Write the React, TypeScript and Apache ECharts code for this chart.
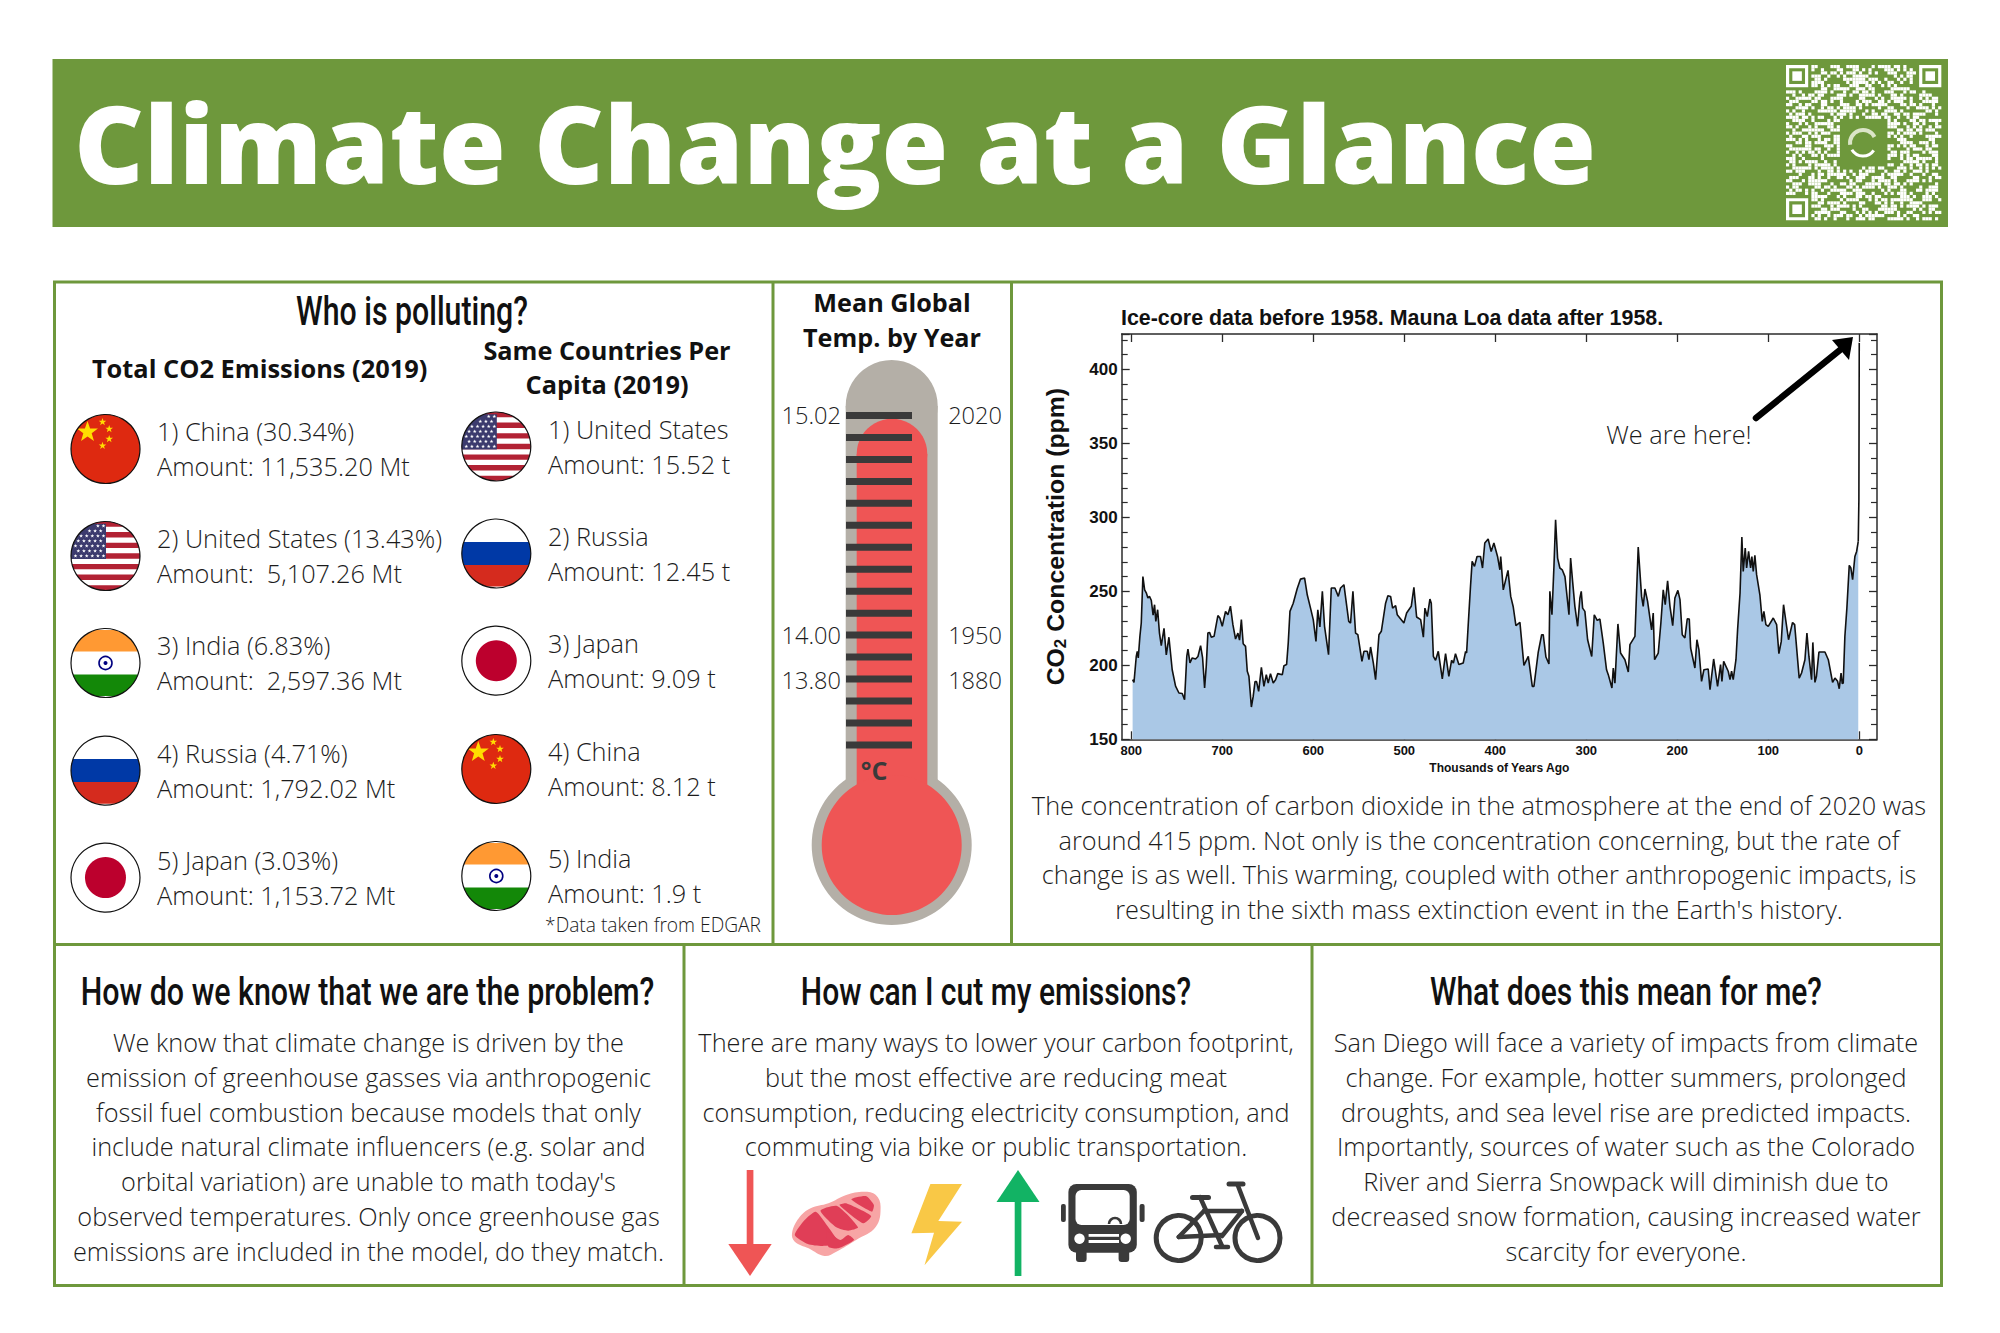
import React, { useEffect, useRef } from "react";
import * as echarts from "echarts";

const ages = [798.5,797,794.5,793.4,792.3,790.5,789,787.2,785.3,783.5,781.7,780,778,776,774.4,773,771,769,767,764,761.5,758.6,755,751.3,747.6,744,741.4,739,737.7,735.5,733,729.3,726.7,723.8,721.6,719.4,717.6,715.8,714,712,709,704.8,702.6,700,696.4,693.8,691,688.3,685.4,682.8,681,679,677,674.4,672.5,670.7,668,666,664,662.3,660,657,654.2,651.6,649.5,647,644,641.4,639,634,632.2,629.3,627.5,625.6,622,617.6,614,609.5,606.6,603,600,597,595,592.7,590,587.6,583.2,580.2,576.2,572.5,570,566.3,561,559,556.4,553.5,551,546.5,544.3,540.6,538.8,537,534,531.5,527.8,525.2,520.5,518,515,512.8,509.5,507.7,500.4,497.4,492.3,489.4,486.4,482,479,477.3,474.7,471.8,470.3,468,465.6,462.6,458.2,454.6,451,448,446,443.7,440,435.2,432.6,431.5,429.7,427.2,425.4,422.8,420,416.2,414,411.5,407.8,404.5,401.5,397.5,394.9,394,391.2,386,383,380.2,377.3,372.9,368.5,363.7,359.3,357.5,352.8,349,347.3,344.3,341,340,337.7,335.5,333.7,331.5,329,326.4,323.4,319,317.2,315,312.5,309.5,307,305.5,304,301.5,298.5,294,291.2,288,285,281.3,277.7,275.8,271.8,270.3,268.5,265.2,262.3,257.5,253.8,252,246.5,242.9,239.2,237.4,235.5,232.6,228.2,226.4,224.9,220.9,218,215.4,213.2,210.6,208,205,202.6,199.3,197,194.5,191.6,189,186.8,185.3,180.6,178.4,176.2,173.3,170.7,166,164,160,155.7,152.4,150.9,149,144,142,140.3,138.5,135.5,133.7,131,129,127.5,125.3,123.8,121.6,119.4,118,116.5,114.7,112.8,109.2,106.6,104.8,102.6,100,94.5,90.8,88.3,85.7,83.2,80.6,77.7,73.3,71,66,63.4,59.7,57.5,55.3,52.4,51,48.7,47,44.3,37.7,34,29.3,26.7,23.8,22,20,18.7,17.6,15.8,13.6,11,9.2,7.3,4.8,2.9,1.1];
const co2 = [190.3,188.5,206,209.5,205,219.6,228.6,260,251,249,245.5,246.6,244,234,241,229.7,237.6,221.8,213.3,225,207,219,197,186,181.3,181,176.8,206,211,201.6,205,204.3,206,213.3,205,184.7,199.3,221.8,222.3,219,219.6,233.6,232,226.4,236.5,234.2,240,227.5,217.8,221.8,217,230.9,214.6,212.8,196,192.6,171.8,179,189,189,182.4,198.6,185.8,193.7,188,194.4,188,190.3,194.4,193.7,199.8,200.5,215,236.5,242,252,258.3,259,247.7,238.7,230.9,216.2,237.6,225.9,250,226.4,207.2,252.3,252.3,246.6,252.3,254.5,229.7,228.6,250,221.8,220.7,202.7,209.5,209.5,203.8,212.4,201.6,190.3,220.7,223,242,247,246.6,238.7,240.3,234.2,228.6,235.4,239.9,252.7,232.7,230.9,219,238.7,233,244.8,242,206,203.4,209.5,190.8,207.9,192.6,203.4,201.6,207.9,200.5,201.6,209.5,208.3,227.5,253.4,270.3,266.9,273.6,273.6,265.8,282.7,285.4,277,282.7,273.6,264.6,273.6,251,264.2,246.6,239.4,226.8,229,200,206,185.8,185.8,208.8,220.7,220.7,205.6,200.9,250,234.2,266.9,298.4,272.5,265.8,264.6,260,234.2,272.5,256.8,239.9,226.4,245.5,250,238.7,236.5,217.3,206,234.2,230.4,231.3,215,197,193.7,184.7,198.2,188,228,208.3,203.8,195.5,214,219.6,280,246.6,239.9,251.6,243.2,224,235.4,203.8,208.3,228.6,251,241,257.2,239.9,226.8,245.5,250.7,244.4,220.7,218.5,231.5,231.3,211.7,198.2,217.3,210.6,189.2,197,197.5,183.6,204.3,185.8,200.5,189.2,202.7,196,190.3,196,190.3,203.8,224,248.9,286.7,263.5,279.3,265.8,277,265.8,273.6,263.5,274.3,261.3,247.7,229.7,236.5,227.5,226.4,232,227.5,207.9,216.2,241,229.7,217.3,229,227.5,191.4,194.8,203.8,221.8,206,190.3,215.5,188.5,192.6,209,209,203.8,188.5,191.4,189.2,184.2,194.8,187.6,188,219.6,238.7,267.6,265.8,257.9,273.6,277,283.8];
const modernAges = [1.1, 0.4, 0];
const modernCo2 = [283.8, 312, 418];
const xTickValues = [0, 100, 200, 300, 400, 500, 600, 700, 800];

const totalLines = [
  ["1) China (30.34%)", "Amount: 11,535.20 Mt"],
  ["2) United States (13.43%)", "Amount:  5,107.26 Mt"],
  ["3) India (6.83%)", "Amount:  2,597.36 Mt"],
  ["4) Russia (4.71%)", "Amount: 1,792.02 Mt"],
  ["5) Japan (3.03%)", "Amount: 1,153.72 Mt"],
];
const totalFlags = ["china", "usa", "india", "russia", "japan"];
const capitaLines = [
  ["1) United States", "Amount: 15.52 t"],
  ["2) Russia", "Amount: 12.45 t"],
  ["3) Japan", "Amount: 9.09 t"],
  ["4) China", "Amount: 8.12 t"],
  ["5) India", "Amount: 1.9 t"],
];
const capitaFlags = ["usa", "russia", "japan", "china", "india"];
const tempLabels = ["15.02", "14.00", "13.80"];
const yearLabels = ["2020", "1950", "1880"];
const captionLines = [
  "The concentration of carbon dioxide in the atmosphere at the end of 2020 was",
  "around 415 ppm. Not only is the concentration concerning, but the rate of",
  "change is as well. This warming, coupled with other anthropogenic impacts, is",
  "resulting in the sixth mass extinction event in the Earth's history.",
];
const problemLines = [
  "We know that climate change is driven by the",
  "emission of greenhouse gasses via anthropogenic",
  "fossil fuel combustion because models that only",
  "include natural climate influencers (e.g. solar and",
  "orbital variation) are unable to math today's",
  "observed temperatures. Only once greenhouse gas",
  "emissions are included in the model, do they match.",
];
const cutLines = [
  "There are many ways to lower your carbon footprint,",
  "but the most effective are reducing meat",
  "consumption, reducing electricity consumption, and",
  "commuting via bike or public transportation.",
];
const meanLines = [
  "San Diego will face a variety of impacts from climate",
  "change. For example, hotter summers, prolonged",
  "droughts, and sea level rise are predicted impacts.",
  "Importantly, sources of water such as the Colorado",
  "River and Sierra Snowpack will diminish due to",
  "decreased snow formation, causing increased water",
  "scarcity for everyone.",
];
// decorative code block, one hex string per row
const qrRows = [
  "A5C39E17B46D2","3E90C6A1D57B8","C71B5D28E3F06","19E4A7C02B6D4","D2683FB9150A7","6AF017D4C92E3","B3D58E62A07C1",
  "4C19F3B07E6A5","E87A26D1C5903","25B0E9F4683C7","9F63C18A7D2B0","70DA42E6B91F4","CB18735F0DA26","1E96BD04C27A8",
  "A43F7C51E80D6","5D02E89B36F17","F6B14A7D92C05","3C85D06EA1B79","8A7E29B3F4D10","D1469C70E2A5B","27F3A58C1B6E4",
  "B95C0E36D7A12","46E1B7D2A90F8","EA2D85F31C067","1B79C64E0F3A5","C30E9A27D58B1","7F64D13B82EC0","95A8F20C6E173",
  "28D7B149EAC36","E4106FC38B7D2","6BC93A5E07D14","A17D24F8C96B0","3F5E80B61D2A9","DC26A97134E80","08B7E5C2F9136",
  "71A4D39E60C5B","C5F80B17A3D42","39E26C7DB5014","B06D1AF4E8273","5A93E7028C6F1","E2C47B915D0A6","17F8A36C0E9D2",
  "94D05E2B7F1C8","6C37A18D49E05","A9E2F5036BD71","3D1B84C7E0A62","F07C62A9D3158","82A5D97E14C06","4E6913B0FA5D7",
];

const GREEN = "#6e983c";
const DARK = "#3a3a3a";
const BODY = "#1c1c1c";
const OPEN = "Open Sans";
const HEAD = "Roboto";
const BS = 25.3;

function txt(text: string, x: number, y: number, size: number, o: any = {}) {
  const { weight = 300, align = "center", color = BODY, family = OPEN, scaleX = 1, rotation = 0 } = o;
  return {
    type: "text", x, y: family === OPEN ? y - 1 : y, scaleX, rotation, z: 50,
    style: {
      text, fill: color, fontFamily: family, fontSize: size, fontWeight: weight,
      textAlign: align, textVerticalAlign: "middle", align, verticalAlign: "middle",
    },
  };
}
function rect(x: number, y: number, width: number, height: number, fill: string, r = 0) {
  return { type: "rect", shape: { x, y, width, height, r }, style: { fill } };
}
function circle(cx: number, cy: number, r: number, fill: string, stroke = "none", lineWidth = 0) {
  return { type: "circle", shape: { cx, cy, r }, style: { fill, stroke, lineWidth } };
}
function seg(x1: number, y1: number, x2: number, y2: number, stroke: string, lineWidth: number) {
  return { type: "line", shape: { x1, y1, x2, y2 }, style: { stroke, lineWidth, lineCap: "round" } };
}
function poly(points: number[][], fill: string, smooth = 0) {
  return { type: "polygon", shape: { points, smooth }, style: { fill }, z: 5 };
}
function clipRect(cx: number, cy: number, r: number, x0: number, x1: number, y0: number, y1: number, fill: string) {
  const right: number[][] = [];
  const left: number[][] = [];
  const n = 16;
  for (let i = 0; i <= n; i++) {
    const y = y0 + ((y1 - y0) * i) / n;
    const d = Math.abs(y - cy);
    if (d >= r) continue;
    const w = Math.sqrt(r * r - d * d);
    const a = Math.max(x0, cx - w);
    const b = Math.min(x1, cx + w);
    if (b <= a) continue;
    right.push([b, y]);
    left.unshift([a, y]);
  }
  return poly(right.concat(left), fill);
}
function star(cx: number, cy: number, R: number, fill: string, rot = -90) {
  const pts: number[][] = [];
  for (let i = 0; i < 10; i++) {
    const rad = i % 2 === 0 ? R : R * 0.4;
    const a = ((rot + i * 36) * Math.PI) / 180;
    pts.push([cx + rad * Math.cos(a), cy + rad * Math.sin(a)]);
  }
  return poly(pts, fill);
}
function flag(kind: string, cx: number, cy: number) {
  const r = 34.5;
  const out: any[] = [circle(cx, cy, r, "#ffffff")];
  if (kind === "china") {
    out.push(circle(cx, cy, r, "#de2910"));
    out.push(star(cx - 18, cy - 17, 11, "#ffde00"));
    out.push(star(cx - 3, cy - 27, 4, "#ffde00"));
    out.push(star(cx + 3.7, cy - 20, 4, "#ffde00"));
    out.push(star(cx + 3.7, cy - 10, 4, "#ffde00"));
    out.push(star(cx - 3, cy - 3.3, 4, "#ffde00"));
  } else if (kind === "usa") {
    const h = (2 * r) / 13;
    for (let i = 0; i < 13; i += 2) {
      out.push(clipRect(cx, cy, r, cx - r, cx + r, cy - r + i * h, cy - r + (i + 1) * h, "#b22234"));
    }
    out.push(clipRect(cx, cy, r, cx - r, cx + 0.5, cy - r, cy + 3, "#3c3b6e"));
    for (let row = 0; row < 7; row++) {
      for (let col = 0; col < 6; col++) {
        const sx = cx - 30 + col * 5.6 + (row % 2 ? 2.8 : 0);
        const sy = cy - 30 + row * 5;
        const d = Math.hypot(sx - cx, sy - cy);
        if (d < r - 2 && sx < cx - 1) out.push(star(sx, sy, 2, "#ffffff"));
      }
    }
  } else if (kind === "india") {
    out.push(clipRect(cx, cy, r, cx - r, cx + r, cy - r, cy - r / 3, "#ff9933"));
    out.push(clipRect(cx, cy, r, cx - r, cx + r, cy + r / 3, cy + r, "#138808"));
    out.push({ ...circle(cx, cy, 6.5, "none", "#000080", 1.6), z: 6 });
    out.push({ ...circle(cx, cy, 2, "#000080"), z: 6 });
  } else if (kind === "russia") {
    out.push(clipRect(cx, cy, r, cx - r, cx + r, cy - 11.5, cy + 11.5, "#0039a6"));
    out.push(clipRect(cx, cy, r, cx - r, cx + r, cy + 11.5, cy + r, "#d52b1e"));
  } else if (kind === "japan") {
    out.push({ ...circle(cx, cy, 20.5, "#bc002d"), z: 6 });
  }
  out.push({ ...circle(cx, cy, r, "none", "#111111", 1.2), z: 7 });
  return out;
}

function buildGraphics() {
  const els: any[] = [];
  // banner
  els.push(rect(52.5, 59, 1895.5, 168, GREEN));
  els.push(txt("Climate Change at a Glance", 74, 143.5, 108, { align: "left", weight: 800, color: "#ffffff" }));
  // QR
  const qx = 1786, qy = 65, qm = 3.17;
  qrRows.forEach((hex, r) => {
    let bits = "";
    for (const ch of hex) bits += parseInt(ch, 16).toString(2).padStart(4, "0");
    for (let c = 0; c < 49; c++) {
      const inFinder = (r < 8 && c < 8) || (r < 8 && c > 40) || (r > 40 && c < 8);
      const inLogo = Math.abs(r - 24) < 8 && Math.abs(c - 24) < 8;
      if (bits[c] === "1" && !inFinder && !inLogo) els.push(rect(qx + c * qm, qy + r * qm, qm, qm, "#ffffff"));
    }
  });
  [[0, 0], [0, 42], [42, 0]].forEach(([r, c]) => {
    const x = qx + c * qm, y = qy + r * qm;
    els.push({ type: "rect", shape: { x: x + qm / 2, y: y + qm / 2, width: qm * 6, height: qm * 6 }, style: { fill: "none", stroke: "#ffffff", lineWidth: qm } });
    els.push(rect(x + 2 * qm, y + 2 * qm, 3 * qm, 3 * qm, "#ffffff"));
  });
  els.push({ type: "arc", shape: { cx: 1863, cy: 143, r: 13, startAngle: 0.6, endAngle: 2.6 }, style: { stroke: "#ffffff", lineWidth: 3, fill: "none" } });
  els.push({ type: "arc", shape: { cx: 1863, cy: 143, r: 13, startAngle: 3.0, endAngle: 5.8 }, style: { stroke: "#dbe5c8", lineWidth: 4, fill: "none" } });

  // panel borders
  const B = 3;
  const bb = { fill: "none", stroke: GREEN, lineWidth: B };
  els.push({ type: "rect", shape: { x: 54.5, y: 282, width: 1887, height: 1003.5 }, style: bb });
  els.push(rect(54, 943, 1888, B, GREEN));
  els.push(rect(771.5, 282, B, 662, GREEN));
  els.push(rect(1010, 282, B, 662, GREEN));
  els.push(rect(682.5, 944, B, 342, GREEN));
  els.push(rect(1310.5, 944, B, 342, GREEN));

  // Who is polluting
  els.push(txt("Who is polluting?", 412, 311, 40, { family: HEAD, weight: 500, color: "#111", scaleX: 0.757 }));
  els.push(txt("Total CO2 Emissions (2019)", 259.6, 369, 25.4, { weight: 700, color: "#111" }));
  els.push(txt("Same Countries Per", 607, 351, 25.3, { weight: 700, color: "#111" }));
  els.push(txt("Capita (2019)", 607, 385, 25.3, { weight: 700, color: "#111" }));
  const leftY = [449, 556, 663, 770.6, 877.6];
  const rightY = [446.5, 553.5, 660.7, 769, 876];
  totalLines.forEach((ls, i) => {
    els.push(...flag(totalFlags[i], 105.5, leftY[i]));
    els.push(txt(ls[0], 157, leftY[i] - 17, BS, { align: "left" }));
    els.push(txt(ls[1], 157, leftY[i] + 18, BS, { align: "left" }));
  });
  capitaLines.forEach((ls, i) => {
    els.push(...flag(capitaFlags[i], 496.3, rightY[i]));
    els.push(txt(ls[0], 548, rightY[i] - 17, BS, { align: "left" }));
    els.push(txt(ls[1], 548, rightY[i] + 18, BS, { align: "left" }));
  });
  els.push(txt("*Data taken from EDGAR", 761, 925, 19.2, { align: "right" }));

  // Thermometer
  const gray = "#b4afa7", red = "#ef5555";
  els.push(circle(891.7, 406, 46, gray));
  els.push(rect(845.7, 406, 92, 375, gray));
  els.push(circle(891.7, 845, 80, gray));
  els.push(circle(892, 454, 35.3, red));
  els.push(rect(856.7, 454, 70.6, 335, red));
  els.push(circle(891.7, 845, 70, red));
  for (let i = 0; i < 16; i++) els.push(rect(846, 412 + i * 21.96, 66, 7, DARK));
  els.push(txt("°C", 874, 771, 25, { weight: 700, color: DARK }));
  els.push(txt("Mean Global", 892, 303, 25.2, { weight: 700, color: "#111" }));
  els.push(txt("Temp. by Year", 892, 338, 25.2, { weight: 700, color: "#111" }));
  [415.5, 635.6, 680.5].forEach((y, i) => {
    els.push(txt(tempLabels[i], 841, y, 23.6, { align: "right" }));
    els.push(txt(yearLabels[i], 1002, y, 23.6, { align: "right" }));
  });

  // Chart caption + callout
  captionLines.forEach((l, i) => els.push(txt(l, 1479, 806 + i * 34.6, BS)));
  els.push(txt("We are here!", 1679, 435, BS));
  els.push({ ...seg(1756, 418, 1840, 350, "#000000", 6.5), z: 60 });
  els.push({ type: "polygon", z: 60, shape: { points: [[1853, 337], [1849, 360], [1832, 340]] }, style: { fill: "#000000" } });

  // Bottom panels
  const head: [string, number][] = [
    ["How do we know that we are the problem?", 367.5],
    ["How can I cut my emissions?", 996],
    ["What does this mean for me?", 1626],
  ];
  head.forEach(([t, x], i) => els.push(txt(t, x, 992, 38, { family: HEAD, weight: 500, color: "#111", scaleX: i === 0 ? 0.8 : 0.79 })));
  const ys = [1043, 1078, 1113, 1147, 1182, 1217, 1251.5];
  problemLines.forEach((l, i) => els.push(txt(l, 368.5, ys[i], BS)));
  cutLines.forEach((l, i) => els.push(txt(l, 996, ys[i], BS)));
  meanLines.forEach((l, i) => els.push(txt(l, 1626, ys[i], BS)));

  // Icons
  const Z = (px: number, py: number) => [690 + px / 2.529, 1140 + py / 3];
  els.push(rect(746.7, 1170, 6.7, 76, red));
  els.push({ type: "polygon", shape: { points: [[728.3, 1244], [771.7, 1244], [750, 1276]] }, style: { fill: red } });
  els.push({ type: "polygon", shape: { points: [[996.5, 1202], [1039.5, 1202], [1018, 1170]] }, style: { fill: "#12b364" } });
  els.push(rect(1014.7, 1200, 6.7, 76, "#12b364"));
  // meat
  els.push(poly([[258,280],[275,235],[305,205],[350,190],[395,165],[440,155],[470,165],[482,200],[470,260],[420,300],[370,335],[340,348],[300,325],[265,305]].map(p => Z(p[0], p[1])), "#f7a5a5", 0.4));
  els.push(poly([[265,285],[290,240],[318,215],[350,262],[375,310],[335,318],[298,312]].map(p => Z(p[0], p[1])), "#e03e57", 0.2));
  els.push(poly([[330,212],[372,198],[425,262],[400,272],[370,262]].map(p => Z(p[0], p[1])), "#e03e57", 0.2));
  els.push(poly([[378,195],[395,190],[458,228],[438,250]].map(p => Z(p[0], p[1])), "#e03e57", 0.2));
  els.push(poly([[408,178],[445,168],[465,195],[460,215]].map(p => Z(p[0], p[1])), "#e03e57", 0.2));
  els.push(poly([[345,272],[380,300],[400,285],[415,300],[375,325],[350,320]].map(p => Z(p[0], p[1])), "#e03e57", 0.2));
  // bolt
  els.push({ type: "polygon", shape: { points: [[930.4, 1184], [962, 1184], [938.3, 1221], [962, 1221.7], [924.5, 1265.3], [934, 1232.7], [911.4, 1233.3]] }, style: { fill: "#f9c846" } });
  // bus
  els.push(rect(1068.4, 1184, 68.4, 68.7, DARK, 8));
  els.push(rect(1075.5, 1190, 54.2, 35, "#ffffff", 6));
  els.push(rect(1061, 1204, 4.8, 18, DARK, 2));
  els.push(rect(1139.6, 1204, 5, 18, DARK, 2));
  els.push(rect(1076, 1250, 10.6, 12, DARK, 3));
  els.push(rect(1118.6, 1250, 10.6, 12, DARK, 3));
  els.push(circle(1079.5, 1238.7, 5.2, "#ffffff"));
  els.push(circle(1125.7, 1238.7, 5.2, "#ffffff"));
  els.push(rect(1088.6, 1234, 30.4, 2.8, "#ffffff"));
  els.push(rect(1088.6, 1240, 30.4, 3, "#ffffff"));
  els.push({ type: "arc", shape: { cx: 1115, cy: 1224, r: 6, startAngle: Math.PI, endAngle: 2 * Math.PI }, style: { stroke: DARK, lineWidth: 2.6, fill: "none" } });
  // bike
  els.push(circle(1178.7, 1238, 22.5, "none", DARK, 5));
  els.push(circle(1257.5, 1238, 22.5, "none", DARK, 5));
  els.push(seg(1229, 1184, 1243, 1184, DARK, 5));
  els.push(seg(1237.7, 1185, 1258, 1238, DARK, 4.5));
  els.push(seg(1192.5, 1197.5, 1208.5, 1197.5, DARK, 5));
  els.push(seg(1200, 1197, 1222, 1246, DARK, 4.5));
  els.push(seg(1204, 1211, 1242, 1211, DARK, 4.5));
  els.push(seg(1242, 1211, 1222, 1236, DARK, 4.5));
  els.push(seg(1178.7, 1237, 1204, 1211, DARK, 4.5));
  els.push(seg(1178.7, 1237, 1222, 1235, DARK, 4.5));
  els.push(seg(1216, 1247, 1228, 1247, DARK, 4.5));
  return els;
}

const AXC = "#2b2b2b";
const LAB = "Liberation Sans";

export default function App() {
  const ref = useRef<HTMLDivElement>(null);
  useEffect(() => {
    document.body.style.margin = "0";
    const chart = echarts.init(ref.current!, null, { renderer: "svg" });
    const yTicks = (position: string, labels: boolean) => ({
      type: "value", position, min: 150, max: 424, interval: 50, splitLine: { show: false },
      axisLine: { show: true, onZero: false, lineStyle: { color: AXC, width: 1.5 } },
      axisTick: { show: true, inside: true, length: 8, lineStyle: { color: AXC, width: 1.3 } },
      minorTick: { show: true, splitNumber: 5, length: 6, lineStyle: { color: AXC, width: 1.2 } },
      axisLabel: { show: labels, showMaxLabel: false, color: "#111", fontFamily: LAB, fontWeight: "bold", fontSize: 17, margin: 4 },
    });
    const xTicks = (position: string, labels: boolean) => ({
      type: "value", position, inverse: true, min: -19.5, max: 810.5, splitLine: { show: false },
      axisLine: { show: true, onZero: false, lineStyle: { color: AXC, width: 1.5 } },
      axisTick: { show: true, inside: true, length: 8, customValues: xTickValues, lineStyle: { color: AXC, width: 1.3 } },
      axisLabel: { show: labels, customValues: xTickValues, color: "#111", fontFamily: LAB, fontWeight: "bold", fontSize: 13, margin: 5 },
    });
    chart.setOption({
      animation: false,
      backgroundColor: "#ffffff",
      title: {
        text: "Ice-core data before 1958. Mauna Loa data after 1958.",
        left: 1116, top: 302,
        textStyle: { color: "#111", fontFamily: LAB, fontWeight: "bold", fontSize: 21.4 },
      },
      grid: { left: 1121.7, right: 123, top: 334, bottom: 593.7, containLabel: false },
      xAxis: [
        {
          ...xTicks("bottom", true),
          name: "Thousands of Years Ago", nameLocation: "middle", nameGap: 23,
          nameTextStyle: { color: "#111", fontFamily: LAB, fontWeight: "bold", fontSize: 12 },
        },
        xTicks("top", false),
      ],
      yAxis: [
        {
          ...yTicks("left", true),
          name: "{a|CO}{b|2}{a| Concentration (ppm)}", nameLocation: "middle", nameGap: 53, nameRotate: 90,
          nameTextStyle: {
            rich: {
              a: { fontFamily: LAB, fontWeight: "bold", fontSize: 24.8, color: "#111" },
              b: { fontFamily: LAB, fontWeight: "bold", fontSize: 17, color: "#111", verticalAlign: "bottom", padding: [10, 0, 0, 0] },
            },
          },
        },
        yTicks("right", false),
      ],
      series: [
        {
          type: "line", showSymbol: false, data: ages.map((a, i) => [a, co2[i]]),
          lineStyle: { color: "#111111", width: 1.6 },
          areaStyle: { color: "#aac8e6", opacity: 1, origin: "start" },
          z: 3,
        },
        {
          type: "line", showSymbol: false, data: modernAges.map((a, i) => [a, modernCo2[i]]),
          lineStyle: { color: "#111111", width: 1.6 }, z: 3,
        },
      ],
      graphic: { elements: buildGraphics() },
    });
    return () => chart.dispose();
  }, []);
  return <div ref={ref} style={{ position: "absolute", left: 0, top: 0, width: 2000, height: 1333 }} />;
}
